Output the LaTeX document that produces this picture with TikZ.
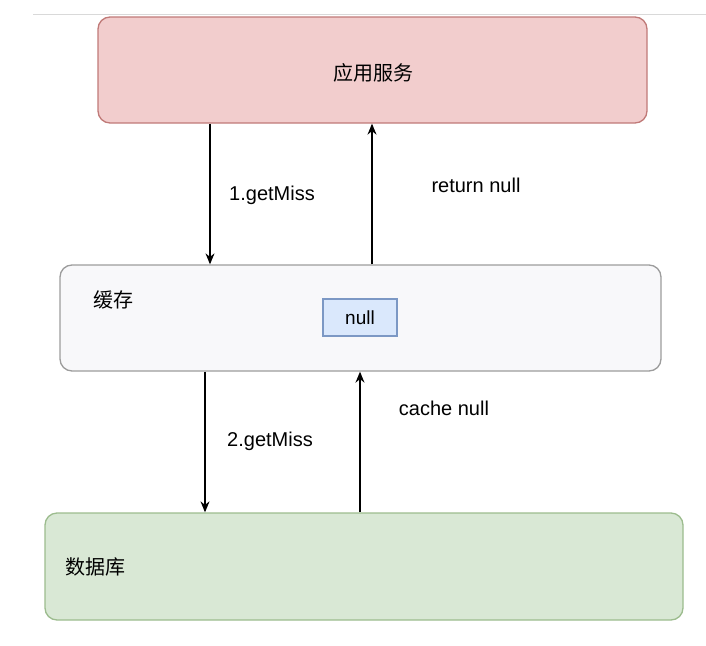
\documentclass[tikz,border=0pt]{standalone}
\usepackage{fontspec}
\setmainfont{Liberation Sans}
\newfontfamily\cjk{Noto Sans CJK SC}
\usetikzlibrary{positioning,arrows.meta}

\definecolor{appfill}{HTML}{F2CDCD}
\definecolor{appline}{HTML}{C07A78}
\definecolor{cachefill}{HTML}{F8F8FA}
\definecolor{cacheline}{HTML}{9C9C9C}
\definecolor{nullfill}{HTML}{DAE8FC}
\definecolor{nullline}{HTML}{7C98C4}
\definecolor{dbfill}{HTML}{D9E8D5}
\definecolor{dbline}{HTML}{9CBC8E}

\tikzset{
  layer/.style={draw,rounded corners=12pt,line width=1.3pt,inner sep=0pt},
  lbl/.style={font=\fontsize{20}{24}\selectfont,inner sep=0pt},
  zh/.style={font=\cjk\fontsize{20}{24}\selectfont,inner sep=0pt},
}

\begin{document}
\begin{tikzpicture}[x=1pt,y=-1pt,>={Stealth[length=11pt,width=9pt]},line width=1.3pt]
  \useasboundingbox (0,0) rectangle (706,645);
  \draw[line width=1pt,black!15] (33,14) -- (706,14);

  \node[layer,fill=appfill,draw=appline,minimum width=549pt,minimum height=106pt] (app) at (372.5,70) {};
  \node[layer,fill=cachefill,draw=cacheline,minimum width=601pt,minimum height=106pt] (cache) at (360.5,318) {};
  \node[layer,fill=dbfill,draw=dbline,minimum width=638pt,minimum height=107pt] (db) at (364,566.5) {};
  \node[draw=nullline,fill=nullfill,line width=1.2pt,minimum width=74pt,minimum height=37pt,
        font=\fontsize{19}{23}\selectfont] (nul) at (360,317.5) {null};

  \node[zh] (appname) at (373,73) {应用服务};
  \node[zh] (cachename) at (113,300) {缓存};
  \node[zh] (dbname) at (95,567) {数据库};

  % arrow columns
  \coordinate (c1) at (210,0);
  \coordinate (c2) at (372,0);
  \coordinate (c3) at (205,0);
  \coordinate (c4) at (360,0);

  \draw[->] (c1 |- app.south) -- (c1 |- cache.north);
  \draw[->] (c2 |- cache.north) -- (c2 |- app.south);
  \draw[->] (c3 |- cache.south) -- (c3 |- db.north);
  \draw[->] (c4 |- db.north) -- (c4 |- cache.south);

  \node[lbl] (get1) at (272,195) {1.getMiss};
  \node[lbl] (ret) at (476,185) {return null};
  \node[lbl] (get2) at (270,441) {2.getMiss};
  \node[lbl] (cnull) at (444,408) {cache null};
\end{tikzpicture}
\end{document}
